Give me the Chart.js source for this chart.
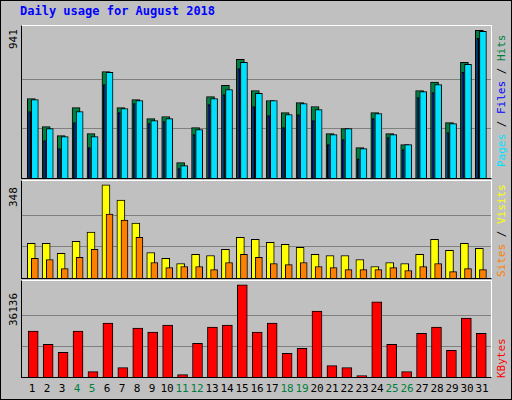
<!DOCTYPE html>
<html>
<head>
<meta charset="utf-8">
<script src="https://cdn.jsdelivr.net/npm/chart.js@4/dist/chart.umd.min.js"></script>
<style>
  body { margin: 0; }
  #wrap { position: relative; width: 510px; height: 398px; background: #c0c0c0; border: 1px solid #000; font-family: "DejaVu Sans Mono", monospace; }
  .plot { position: absolute; left: 20px; width: 471px; border: 1px solid #000; border-right-color: #fff; border-top-color: #fff; box-sizing: border-box; }
  .plot canvas { display: block; }
  .txt { position: absolute; font-size: 11px; white-space: nowrap; }
  .rot { position: absolute; transform-origin: 0 0; transform: rotate(-90deg); font-size: 11px; white-space: nowrap; }
</style>
</head>
<body>
<div id="wrap">
  <div class="txt" style="left:19px;top:3px;color:#0000ff;font-weight:bold;font-size:12px;">Daily usage for August 2018</div>
  <div class="plot" style="top:24px;height:154px;"><canvas id="top"></canvas></div>
  <div class="plot" style="top:179px;height:99px;"><canvas id="mid"></canvas></div>
  <div class="plot" style="top:279px;height:98px;"><canvas id="bot"></canvas></div>
  <div class="rot" style="left:6px;top:48px;">941</div>
  <div class="rot" style="left:6px;top:206px;">348</div>
  <div class="rot" style="left:6px;top:325px;">36136</div>
  <div class="rot" style="left:494px;top:166px;"><span style="color:#00e0ff">Pages</span> / <span style="color:#0000ff">Files</span> / <span style="color:#008040">Hits</span></div>
  <div class="rot" style="left:494px;top:276px;"><span style="color:#ff8000">Sites</span> / <span style="color:#ffff00">Visits</span></div>
  <div class="rot" style="left:494px;top:377px;color:#ff0000">KBytes</div>
  <div id="days"></div>
</div>
<script>
// значения
const days = [1,2,3,4,5,6,7,8,9,10,11,12,13,14,15,16,17,18,19,20,21,22,23,24,25,26,27,28,29,30,31];
const weekends = [4,5,11,12,18,19,25,26];
const hits = [507,328,270,449,283,679,449,500,379,392,98,321,519,590,756,558,494,417,481,456,283,315,194,417,283,213,558,611,353,737,941];
const files = [500,315,264,424,264,673,443,494,366,379,79,309,507,564,737,539,494,405,475,436,277,315,187,411,277,213,551,596,347,724,935];
const pages = [424,238,187,353,194,596,417,475,347,360,60,277,468,532,698,456,398,321,405,366,213,245,123,379,258,181,513,545,290,673,890];
const visits = [129,129,92,137,171,348,291,205,95,73,54,88,84,107,152,144,133,126,114,88,84,84,69,43,58,54,88,144,103,129,111];
const sites = [73,69,35,77,107,239,216,152,58,39,43,43,31,58,88,77,54,50,58,43,39,31,31,31,39,28,43,54,24,35,31];
const kbytes = [17937,12794,9629,17937,2110,21104,3693,19125,17542,20312,923,13190,19521,20312,36136,17542,21104,9233,11211,25852,4485,3693,528,29413,12794,2110,17147,19521,10420,23082,17147];

// подписи дней
const daysBox = document.getElementById("days");
days.forEach((d) => {
  const el = document.createElement("div");
  el.className = "txt";
  el.textContent = d;
  el.style.width = "20px";
  el.style.textAlign = "center";
  el.style.left = (31 + (d - 1) * 15 - 10) + "px";
  el.style.top = "381px";
  el.style.color = weekends.includes(d) ? "#008040" : "#000";
  daysBox.appendChild(el);
});

function series(values, shift) {
  return values.map((v, i) => ({ x: days[i] + shift, y: v }));
}

function barSet(values, shift, color, thick, order) {
  return {
    data: series(values, shift),
    backgroundColor: color,
    borderColor: "#000",
    borderWidth: 1,
    barThickness: thick,
    grouped: false,
    order: order,
  };
}

function makeChart(canvasId, datasets, maxVal, gridTop) {
  const ctx = document.getElementById(canvasId).getContext("2d");
  new Chart(ctx, {
    type: "bar",
    data: { datasets: datasets },
    options: {
      responsive: true,
      maintainAspectRatio: false,
      animation: false,
      layout: { padding: 0 },
      plugins: { legend: { display: false }, tooltip: { enabled: false } },
      scales: {
        x: {
          type: "linear",
          min: 0.27,
          max: 31.67,
          offset: false,
          display: false,
        },
        y: {
          min: 0,
          max: maxVal,
          border: { display: false },
          ticks: { display: false },
          grid: { color: "#808080", lineWidth: 1, drawTicks: false },
          afterBuildTicks: (axis) => {
            axis.ticks = [{ value: gridTop / 3 }, { value: (gridTop * 2) / 3 }];
          },
        },
      },
    },
  });
}

makeChart("top", [
  barSet(hits, -0.11, "#008040", 8, 3),
  barSet(files, 0.13, "#00e0ff", 7, 2),
  barSet(pages, -0.22, "#0000ff", 2, 1),
], 969, 941);

makeChart("mid", [
  barSet(visits, -0.11, "#ffff00", 8, 2),
  barSet(sites, 0.13, "#ff8000", 7, 1),
], 362, 348);

makeChart("bot", [
  barSet(kbytes, 0.02, "#ff0000", 10, 1),
], 37592, 36136);
</script>
</body>
</html>
